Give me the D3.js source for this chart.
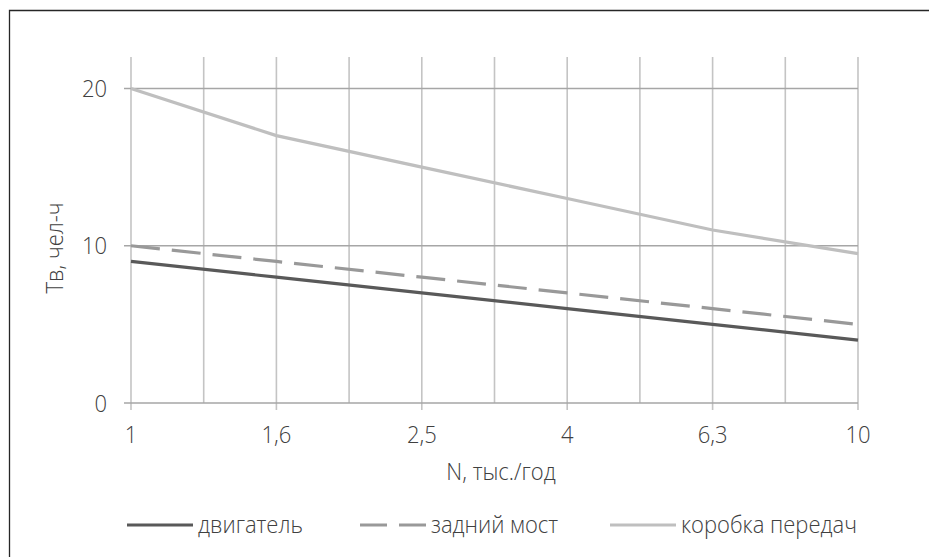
<!DOCTYPE html>
<html>
<head>
<meta charset="utf-8">
<script src="https://cdn.jsdelivr.net/npm/d3@7"></script>
<style>
  body { margin: 0; background: #fff; overflow: hidden; }
  svg { display: block; }
  text { font-family: "Open Sans", sans-serif; font-weight: 300; fill: #404040; }
</style>
</head>
<body>
<div id="chart"></div>
<script>
var categories = ["1", "1,6", "2,5", "4", "6,3", "10"];
var engine = [9, 8, 7, 6, 5, 4];           // двигатель
var rearAxle = [10, 9, 8, 7, 6, 5];        // задний мост
var gearbox = [20, 17, 15, 13, 11, 9.5];   // коробка передач
var yTicks = [0, 10, 20];

var seriesNames = ["двигатель", "задний мост", "коробка передач"];
var seriesColors = ["#595959", "#999999", "#bfbfbf"];
var seriesDash = [null, "29,12", null];

var w = 929, h = 557;
var fs = 22, stretch = 1.1;   // text looks a bit tall in the picture

var svg = d3.select("#chart").append("svg").attr("width", w).attr("height", h);

// frame: only left and top edges are inside the picture
svg.append("path").attr("d", "M9.5,560V10.5H929")
  .attr("fill", "none").attr("stroke", "#262626").attr("stroke-width", 1.3);

var x = d3.scaleLinear().domain([0, categories.length - 1]).range([131, 858]);
var y = d3.scaleLinear().domain([0, 22]).range([403, 57]);

function label(tx, ty, str, anchor, rot) {
  return svg.append("text")
    .attr("transform", "translate(" + tx + "," + ty + ")" + (rot ? " rotate(" + rot + ")" : "") + " scale(1," + stretch + ")")
    .attr("text-anchor", anchor || "start")
    .style("font-size", fs + "px")
    .text(str);
}

// vertical grid (every half step)
var vgrid = d3.range(0, categories.length - 0.5, 0.5);
svg.selectAll(".vgrid").data(vgrid).enter().append("line")
  .attr("x1", d => x(d)).attr("x2", d => x(d))
  .attr("y1", y(22)).attr("y2", d => d % 1 === 0 ? 410 : 403)
  .attr("stroke", "#c4c4c4").attr("stroke-width", 1.6);

// horizontal grid
svg.selectAll(".hgrid").data(yTicks).enter().append("line")
  .attr("x1", 124).attr("x2", 858)
  .attr("y1", d => y(d)).attr("y2", d => y(d))
  .attr("stroke", "#a6a6a6").attr("stroke-width", 1.6);

// tick labels
yTicks.forEach(function(d) { label(107, y(d) + 8.5, d, "end"); });
categories.forEach(function(d, i) { label(x(i), 443, d, "middle"); });

// axis titles
label(501, 480, "N, тыс./год", "middle");
label(63, 248, "Тв, чел-ч", "middle", -90);

// lines
var line = d3.line().x((d, i) => x(i)).y(d => y(d));
[engine, rearAxle, gearbox].forEach(function(s, k) {
  svg.append("path").datum(s).attr("d", line)
    .attr("fill", "none").attr("stroke", seriesColors[k]).attr("stroke-width", 3.2)
    .attr("stroke-dasharray", seriesDash[k]);
});

// legend
var legX = [127, 360, 610];
seriesNames.forEach(function(name, k) {
  svg.append("line").attr("x1", legX[k]).attr("x2", legX[k] + 66)
    .attr("y1", 525).attr("y2", 525)
    .attr("stroke", seriesColors[k]).attr("stroke-width", 3.2)
    .attr("stroke-dasharray", seriesDash[k] ? "27,12" : null);
  label(legX[k] + 71, 533, name, "start");
});
</script>
</body>
</html>
